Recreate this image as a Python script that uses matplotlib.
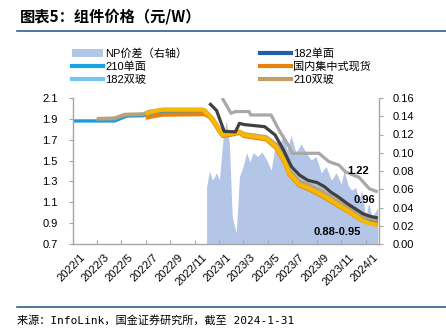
import matplotlib
matplotlib.use('Agg')
import matplotlib.pyplot as plt
import matplotlib.dates as mdates
from matplotlib.lines import Line2D
from matplotlib.patches import Patch
from matplotlib.ticker import FuncFormatter
from matplotlib.transforms import ScaledTranslation
import pandas as pd

plt.rcParams['font.family'] = ['Liberation Sans', 'Noto Sans CJK SC', 'DejaVu Sans']

# ---------------- data ----------------
np_dates = ['2022-11-30', '2022-12-07', '2022-12-15', '2022-12-25', '2023-01-01', '2023-01-10',
            '2023-01-18', '2023-01-26', '2023-02-02', '2023-02-12', '2023-02-20', '2023-03-01',
            '2023-03-10', '2023-03-18', '2023-03-26', '2023-04-07', '2023-04-17', '2023-04-29',
            '2023-05-10', '2023-05-22', '2023-06-01', '2023-06-11', '2023-06-19', '2023-06-29',
            '2023-07-11', '2023-07-24', '2023-08-05', '2023-08-18', '2023-08-30', '2023-09-12',
            '2023-09-24', '2023-10-07', '2023-10-19', '2023-11-01', '2023-11-08', '2023-11-18',
            '2023-11-27', '2023-12-07', '2023-12-15', '2023-12-22', '2024-01-01', '2024-01-08',
            '2024-01-17', '2024-01-31']
np_spread = [0.062, 0.080, 0.070, 0.078, 0.070, 0.115,
             0.135, 0.110, 0.030, 0.012, 0.074, 0.085,
             0.100, 0.090, 0.100, 0.096, 0.101, 0.092,
             0.081, 0.112, 0.110, 0.121, 0.103, 0.119,
             0.100, 0.110, 0.100, 0.092, 0.096, 0.078,
             0.085, 0.070, 0.078, 0.066, 0.081, 0.064,
             0.059, 0.062, 0.048, 0.059, 0.030, 0.045,
             0.030, 0.040]

blue_dates = ['2022-01-01', '2022-04-15', '2022-05-15', '2022-06-25', '2022-07-05', '2022-08-12',
              '2022-11-28', '2022-12-15', '2023-01-01', '2023-01-13', '2023-02-02', '2023-02-20',
              '2023-03-04', '2023-04-28', '2023-05-22', '2023-06-11', '2023-06-24', '2023-07-19',
              '2023-08-12', '2023-09-14', '2023-10-18', '2023-11-20', '2023-12-22', '2024-01-08',
              '2024-01-31']
blue_210_mono = [1.880, 1.880, 1.927, 1.930, 1.947, 1.966,
                 1.966, 1.900, 1.800, 1.750, 1.765, 1.775,
                 1.750, 1.720, 1.645, 1.520, 1.390, 1.280,
                 1.245, 1.185, 1.100, 1.025, 0.955, 0.935,
                 0.920]

tan_dates = ['2022-03-01', '2022-04-15', '2022-05-10', '2022-06-25', '2022-07-10', '2022-08-12',
             '2022-11-25', '2022-12-15', '2023-01-01', '2023-01-12', '2023-02-02', '2023-02-20',
             '2023-03-04', '2023-04-28', '2023-05-22', '2023-06-11', '2023-06-24', '2023-07-19',
             '2023-08-12', '2023-09-14', '2023-10-18', '2023-11-20', '2023-12-22', '2024-01-08',
             '2024-01-31']
tan_210_bifacial = [1.900, 1.905, 1.940, 1.945, 1.970, 1.985,
                    1.985, 1.905, 1.800, 1.755, 1.770, 1.780,
                    1.755, 1.725, 1.655, 1.535, 1.405, 1.300,
                    1.265, 1.205, 1.120, 1.045, 0.975, 0.950,
                    0.935]

orange_dates = ['2022-07-01', '2022-07-20', '2022-08-12', '2022-11-25', '2022-12-07', '2022-12-15',
                '2023-01-01', '2023-01-10', '2023-02-02', '2023-02-20', '2023-03-04', '2023-04-28',
                '2023-05-22', '2023-06-11', '2023-06-24', '2023-07-19', '2023-08-12', '2023-09-14',
                '2023-10-18', '2023-11-20', '2023-12-22', '2024-01-08', '2024-01-31']
orange_spot = [1.910, 1.925, 1.940, 1.945, 1.920, 1.885,
               1.780, 1.735, 1.750, 1.765, 1.735, 1.703,
               1.622, 1.495, 1.368, 1.262, 1.225, 1.160,
               1.082, 1.005, 0.928, 0.905, 0.895]

yellow_dates = ['2022-07-01', '2022-07-20', '2022-08-12', '2022-11-20', '2022-12-07', '2022-12-15',
                '2023-01-01', '2023-01-10', '2023-02-02', '2023-02-20', '2023-03-04', '2023-04-28',
                '2023-05-22', '2023-06-11', '2023-06-24', '2023-07-19', '2023-08-12', '2023-09-14',
                '2023-10-18', '2023-11-20', '2023-12-22', '2024-01-08', '2024-01-31']
yellow_price = [1.953, 1.970, 1.990, 1.990, 1.930, 1.895,
                1.790, 1.745, 1.760, 1.775, 1.745, 1.714,
                1.633, 1.505, 1.378, 1.270, 1.235, 1.170,
                1.090, 1.010, 0.930, 0.900, 0.880]

dark_dates = ['2022-12-07', '2022-12-25', '2023-01-13', '2023-02-10', '2023-02-20', '2023-03-04',
              '2023-04-24', '2023-05-20', '2023-06-10', '2023-06-30', '2023-07-20', '2023-08-10',
              '2023-09-01', '2023-09-20', '2023-10-05', '2023-10-25', '2023-11-15', '2023-12-05',
              '2023-12-25', '2024-01-12', '2024-01-31']
dark_price = [2.050, 1.980, 1.780, 1.775, 1.857, 1.845,
              1.825, 1.745, 1.600, 1.440, 1.360, 1.310,
              1.290, 1.250, 1.200, 1.150, 1.090, 1.040,
              0.990, 0.965, 0.950]

lgray_dates = ['2023-01-08', '2023-01-30', '2023-02-10', '2023-03-16', '2023-03-20', '2023-05-10',
               '2023-05-30', '2023-06-24', '2023-07-01', '2023-09-06', '2023-10-01', '2023-10-26',
               '2023-11-12', '2023-12-15', '2024-01-10', '2024-01-31']
lgray_price = [2.100, 1.953, 1.970, 1.970, 1.937, 1.937,
               1.790, 1.633, 1.570, 1.570, 1.490, 1.457,
               1.390, 1.340, 1.230, 1.200]

legend_labels = ['NP价差（右轴）', '210单面', '182双玻', '182单面', '国内集中式现货', '210双玻']
left_ticks = [0.7, 0.9, 1.1, 1.3, 1.5, 1.7, 1.9, 2.1]
right_ticks = [0.00, 0.02, 0.04, 0.06, 0.08, 0.10, 0.12, 0.14, 0.16]

# ---------------- figure ----------------
W, H = 446, 328
fig = plt.figure(figsize=(W / 100, H / 100), dpi=100)
ax = fig.add_axes([73 / W, 1 - 244 / H, (379 - 73) / W, (244 - 98) / H])
ax2 = ax.twinx()
ax.set_zorder(ax2.get_zorder() + 1)
ax.patch.set_visible(False)

d = lambda s: pd.to_datetime(s)

ax2.fill_between(d(np_dates), np_spread, 0, color='#b4c6e7', lw=0)

ax.plot(d(blue_dates), blue_210_mono, color='#1a9be0', lw=2.4, solid_capstyle='butt')
ax.plot(d(tan_dates), tan_210_bifacial, color='#b8a27a', lw=2.8, solid_capstyle='butt')
ax.plot(d(orange_dates), orange_spot, color='#e8820e', lw=3.0, solid_capstyle='butt')
ax.plot(d(yellow_dates), yellow_price, color='#f6b800', lw=3.0, solid_capstyle='butt')
ax.plot(d(lgray_dates), lgray_price, color='#a8a8a8', lw=2.3, solid_capstyle='butt')
ax.plot(d(dark_dates), dark_price, color='#404040', lw=2.3, solid_capstyle='butt')

ax.set_xlim(d('2022-01-01'), d('2024-02-03'))
ax.set_ylim(0.7, 2.1)
ax2.set_ylim(0.0, 0.16)
ax.set_yticks(left_ticks)
ax.yaxis.set_major_formatter(FuncFormatter(lambda v, p: f'{v:.1f}'))
ax2.set_yticks(right_ticks)
ax2.yaxis.set_major_formatter(FuncFormatter(lambda v, p: f'{v:.2f}'))

ax.xaxis.set_major_locator(mdates.MonthLocator(bymonth=[1, 3, 5, 7, 9, 11]))
ax.xaxis.set_major_formatter(FuncFormatter(lambda v, p: f'{mdates.num2date(v).year}/{mdates.num2date(v).month}'))

axis_col = '#a6a6a6'
for a in (ax, ax2):
    for s in a.spines.values():
        s.set_color(axis_col)
        s.set_linewidth(1.0)
    a.spines['top'].set_visible(False)
ax.spines['right'].set_visible(False)
ax2.spines['left'].set_visible(False)
ax2.spines['bottom'].set_visible(False)

ax.tick_params(axis='y', length=3, color=axis_col, labelsize=8, pad=8, direction='out')
ax.tick_params(axis='x', length=3, color=axis_col, labelsize=8, pad=6, direction='in')
ax2.tick_params(axis='y', length=3, color=axis_col, labelsize=8, pad=7, direction='out')
shift = ScaledTranslation(7 / 100, 0, fig.dpi_scale_trans)
for lab in ax.get_xticklabels():
    lab.set_rotation(45)
    lab.set_ha('right')
    lab.set_va('top')
    lab.set_rotation_mode('anchor')
    lab.set_transform(lab.get_transform() + shift)

# annotations
ax.text(d('2023-12-14'), 1.40, '1.22', fontsize=8, fontweight='bold', ha='center', va='center')
ax.text(d('2023-12-29'), 1.122, '0.96', fontsize=8, fontweight='bold', ha='center', va='center')
ax.text(d('2023-10-21'), 0.815, '0.88-0.95', fontsize=8, fontweight='bold', ha='center', va='center')

# legend
h_np = Patch(facecolor='#b4c6e7', edgecolor='none')
h210m = Line2D([], [], color='#1aa3e8', lw=3)
h182b = Line2D([], [], color='#74c6f0', lw=3)
h182m = Line2D([], [], color='#1f5fa8', lw=3)
hspot = Line2D([], [], color='#e8820e', lw=3)
h210b = Line2D([], [], color='#c0a064', lw=3)
common = dict(loc='upper left', frameon=False, fontsize=8, borderpad=0, borderaxespad=0,
              handlelength=2.75, handletextpad=0.25, labelspacing=0.22)
fig.legend([h_np, h210m, h182b], legend_labels[:3], bbox_to_anchor=(72 / W, 1 - 48.5 / H), **common)
fig.legend([h182m, hspot, h210b], legend_labels[3:], bbox_to_anchor=(260 / W, 1 - 48.5 / H), **common)

# title, rules, source
fig.text(20 / W, 1 - 16 / H, '图表5：组件价格（元/W）', fontsize=11, fontweight='bold',
         family=['Noto Sans CJK SC'], ha='left', va='center')
rule_col = '#2f6090'
fig.add_artist(Line2D([17 / W, 1.0], [1 - 31 / H, 1 - 31 / H], color=rule_col, lw=1.2))
fig.add_artist(Line2D([17 / W, 1.0], [1 - 307 / H, 1 - 307 / H], color=rule_col, lw=1.2))
fig.text(17 / W, 1 - 321 / H, '来源：InfoLink，国金证券研究所，截至 2024-1-31', fontsize=8,
         family=['DejaVu Sans Mono', 'Noto Sans CJK SC'], ha='left', va='center')

fig.savefig('out.png', dpi=100)
